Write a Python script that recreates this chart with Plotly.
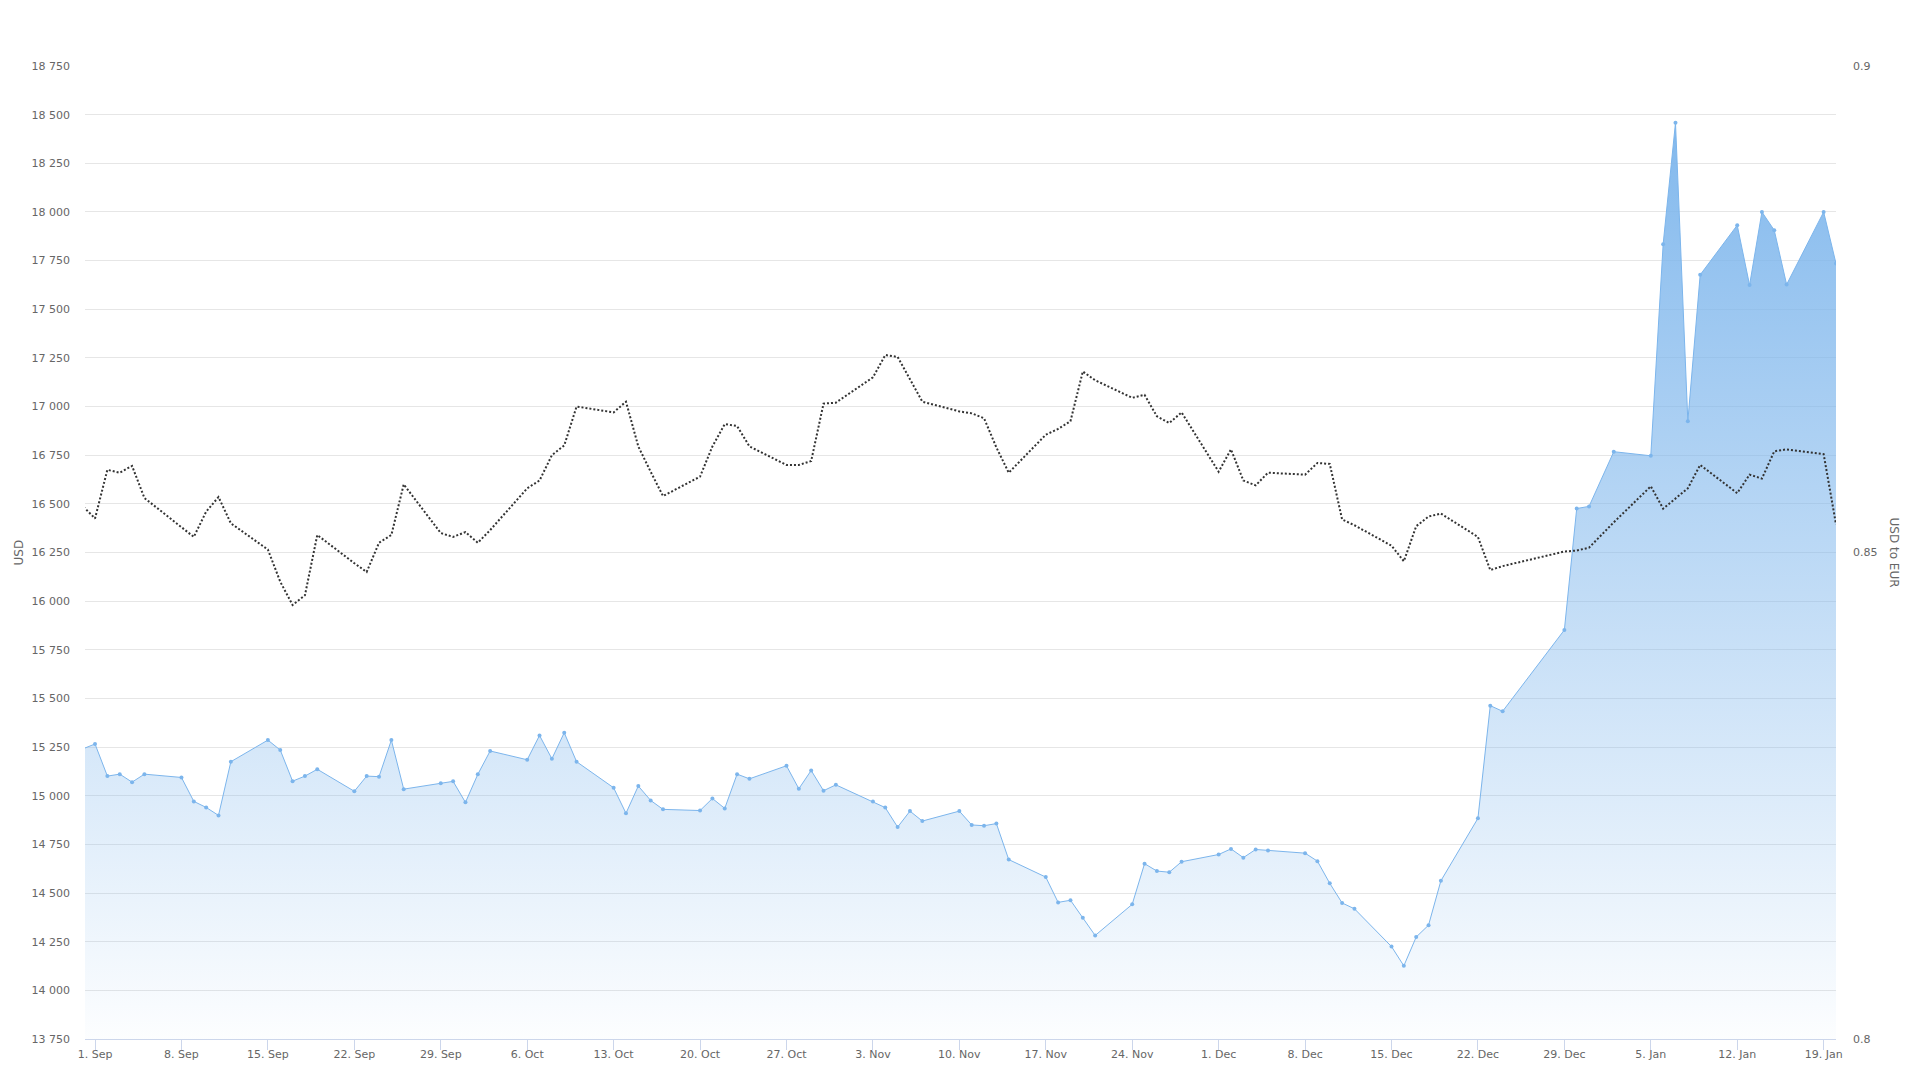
import plotly.graph_objects as go

dates = [
    "2025-08-29", "2025-09-01", "2025-09-02", "2025-09-03", "2025-09-04", "2025-09-05",
    "2025-09-08", "2025-09-09", "2025-09-10", "2025-09-11", "2025-09-12",
    "2025-09-15", "2025-09-16", "2025-09-17", "2025-09-18", "2025-09-19",
    "2025-09-22", "2025-09-23", "2025-09-24", "2025-09-25", "2025-09-26",
    "2025-09-29", "2025-09-30", "2025-10-01", "2025-10-02", "2025-10-03",
    "2025-10-06", "2025-10-07", "2025-10-08", "2025-10-09", "2025-10-10",
    "2025-10-13", "2025-10-14", "2025-10-15", "2025-10-16", "2025-10-17",
    "2025-10-20", "2025-10-21", "2025-10-22", "2025-10-23", "2025-10-24",
    "2025-10-27", "2025-10-28", "2025-10-29", "2025-10-30", "2025-10-31",
    "2025-11-03", "2025-11-04", "2025-11-05", "2025-11-06", "2025-11-07",
    "2025-11-10", "2025-11-11", "2025-11-12", "2025-11-13", "2025-11-14",
    "2025-11-17", "2025-11-18", "2025-11-19", "2025-11-20", "2025-11-21",
    "2025-11-24", "2025-11-25", "2025-11-26", "2025-11-27", "2025-11-28",
    "2025-12-01", "2025-12-02", "2025-12-03", "2025-12-04", "2025-12-05",
    "2025-12-08", "2025-12-09", "2025-12-10", "2025-12-11", "2025-12-12",
    "2025-12-15", "2025-12-16", "2025-12-17", "2025-12-18", "2025-12-19",
    "2025-12-22", "2025-12-23", "2025-12-24",
    "2025-12-29", "2025-12-30", "2025-12-31",
    "2026-01-02",
    "2026-01-05", "2026-01-06", "2026-01-07", "2026-01-08", "2026-01-09",
    "2026-01-12", "2026-01-13", "2026-01-14", "2026-01-15", "2026-01-16",
    "2026-01-19", "2026-01-20",
]

usd = [
    15190, 15266, 15101, 15111, 15070, 15111,
    15094, 14971, 14940, 14899, 15175,
    15286, 15235, 15075, 15101, 15136,
    15023, 15101, 15098, 15286, 15034,
    15064, 15074, 14966, 15110, 15230,
    15185, 15310, 15190, 15324, 15175,
    15041, 14910, 15050, 14976, 14930,
    14924, 14986, 14935, 15111, 15087,
    15154, 15036, 15130, 15026, 15056,
    14971, 14939, 14839, 14921, 14870,
    14921, 14850, 14846, 14857, 14672,
    14582, 14452, 14463, 14373, 14282,
    14442, 14651, 14613, 14607, 14661,
    14698, 14727, 14682, 14724, 14719,
    14705, 14664, 14550, 14449, 14419,
    14225, 14126, 14274, 14335, 14563,
    14884, 15463, 15434,
    15852, 16476, 16487,
    16768,
    16747, 17834, 18458, 16924, 17677,
    17932, 17624, 18000, 17906, 17627,
    18000, 17735,
]

usd_to_eur = [
    0.8573, 0.8535, 0.8585, 0.8582, 0.8589, 0.8556,
    0.8526, 0.8516, 0.8542, 0.8557, 0.8530,
    0.8503, 0.8470, 0.8446, 0.8456, 0.8518,
    0.8489, 0.8480, 0.8510, 0.8518, 0.8570,
    0.8520, 0.8516, 0.8521, 0.8510, 0.8523,
    0.8566, 0.8574, 0.8600, 0.8610, 0.8650,
    0.8644, 0.8655, 0.8609, 0.8583, 0.8558,
    0.8578, 0.8609, 0.8632, 0.8630, 0.8609,
    0.8590, 0.8590, 0.8594, 0.8653, 0.8654,
    0.8680, 0.8703, 0.8701, 0.8678, 0.8655,
    0.8645, 0.8643, 0.8638, 0.8608, 0.8582,
    0.8621, 0.8627, 0.8635, 0.8686, 0.8677,
    0.8659, 0.8662, 0.8640, 0.8633, 0.8644,
    0.8583, 0.8606, 0.8574, 0.8569, 0.8582,
    0.8580, 0.8592, 0.8591, 0.8534, 0.8528,
    0.8507, 0.8491, 0.8527, 0.8537, 0.8540,
    0.8516, 0.8482, 0.8486,
    0.8501, 0.8502, 0.8505,
    0.8531,
    0.8568, 0.8545, 0.8556, 0.8566, 0.8590,
    0.8561, 0.8580, 0.8576, 0.8604, 0.8606,
    0.8601, 0.8529,
]

tick_dates = [
    "2025-09-01", "2025-09-08", "2025-09-15", "2025-09-22", "2025-09-29",
    "2025-10-06", "2025-10-13", "2025-10-20", "2025-10-27", "2025-11-03",
    "2025-11-10", "2025-11-17", "2025-11-24", "2025-12-01", "2025-12-08",
    "2025-12-15", "2025-12-22", "2025-12-29", "2026-01-05", "2026-01-12",
    "2026-01-19",
]
tick_labels = [
    "1. Sep", "8. Sep", "15. Sep", "22. Sep", "29. Sep",
    "6. Oct", "13. Oct", "20. Oct", "27. Oct", "3. Nov",
    "10. Nov", "17. Nov", "24. Nov", "1. Dec", "8. Dec",
    "15. Dec", "22. Dec", "29. Dec", "5. Jan", "12. Jan",
    "19. Jan",
]

FONT = "DejaVu Sans"
BLUE = "#7cb5ec"

fig = go.Figure()
fig.add_trace(go.Scatter(
    x=dates, y=usd, mode="lines+markers", name="USD",
    line=dict(color=BLUE, width=1),
    marker=dict(color=BLUE, size=4),
    fill="tozeroy",
    fillgradient=dict(
        type="vertical",
        start=13750, stop=18458,
        colorscale=[[0, "rgba(124,181,236,0.02)"], [1, "rgba(124,181,236,0.95)"]],
    ),
    yaxis="y",
))
fig.add_trace(go.Scatter(
    x=dates, y=usd_to_eur, mode="lines", name="USD to EUR",
    line=dict(color="#333333", width=2, dash="2px,2px"),
    yaxis="y2",
))

fig.update_layout(
    width=1912, height=1069,
    margin=dict(l=85, r=76, t=66, b=30, autoexpand=False),
    paper_bgcolor="white", plot_bgcolor="white",
    separators=". ",
    showlegend=False,
    font=dict(family=FONT, size=11, color="#666666"),
    xaxis=dict(
        type="date",
        range=["2025-08-31 04:30", "2026-01-20 00:00"],
        tickvals=tick_dates, ticktext=tick_labels,
        showgrid=False, zeroline=False,
        showline=True, linecolor="#ccd6eb", linewidth=1,
        ticks="outside", ticklen=10, tickcolor="#ccd6eb",
        ticklabelstandoff=-5,
        tickfont=dict(family=FONT, size=11, color="#666666"),
    ),
    yaxis=dict(
        range=[13750, 18750], dtick=250, tick0=13750,
        tickformat=",d",
        showgrid=True, gridcolor="#e6e6e6", gridwidth=1,
        zeroline=False, showline=False, ticks="",
        ticklabelstandoff=14,
        tickfont=dict(family=FONT, size=11, color="#666666"),
    ),
    yaxis2=dict(
        overlaying="y", side="right",
        range=[0.8, 0.9], tickvals=[0.8, 0.85, 0.9], ticktext=["0.8", "0.85", "0.9"],
        showgrid=False, zeroline=False, showline=False, ticks="",
        ticklabelstandoff=16,
        tickfont=dict(family=FONT, size=11, color="#666666"),
    ),
    annotations=[
        dict(text="USD", xref="paper", yref="paper", x=0, y=0.5, xshift=-67,
             textangle=-90, showarrow=False, xanchor="center", yanchor="middle",
             font=dict(family=FONT, size=12, color="#666666")),
        dict(text="USD to EUR", xref="paper", yref="paper", x=1, y=0.5, xshift=58,
             textangle=90, showarrow=False, xanchor="center", yanchor="middle",
             font=dict(family=FONT, size=12, color="#666666")),
    ],
)

fig.write_html(
    "out.html",
    config={"displayModeBar": False},
    post_script="document.body.style.margin='0px';document.body.style.overflow='hidden';",
)
